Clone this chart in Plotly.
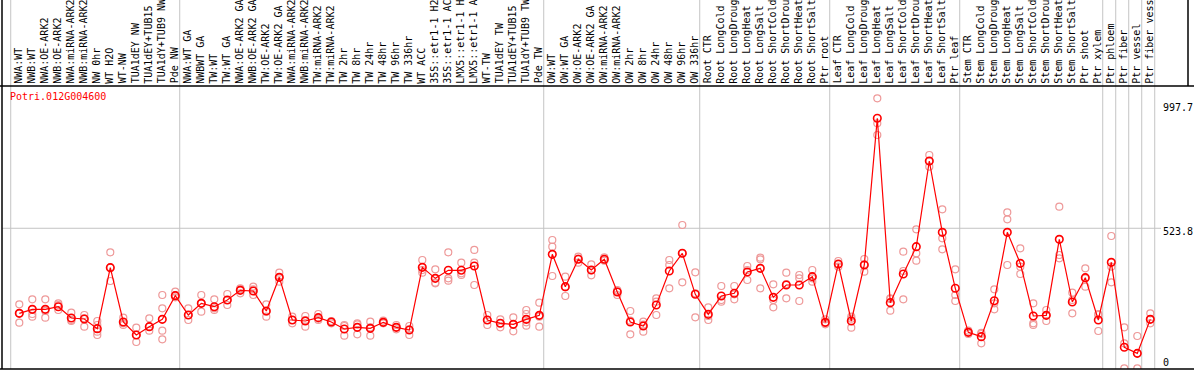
import plotly.graph_objects as go

gene = "Potri.012G004600"

# sample labels as displayed (the reference shows at most 14 characters)
labels = [
    "NWA:WT", "NWB:WT", "NWA:OE-ARK2", "NWB:OE-ARK2", "NWA:miRNA-ARK2", "NWB:miRNA-ARK2",
    "NW 0hr", "WT H2O", "WT-NW", "TUA1dEY NW", "TUA1dEY+TUB15", "TUA1dY+TUB9 NW", "Pde NW",
    "NWA:WT GA", "NWBWT GA", "TW:WT", "TW:WT GA", "NWA:OE-ARK2 GA", "NWB:OE-ARK2 GA",
    "TW:OE-ARK2", "TW:OE-ARK2 GA", "NWA:miRNA-ARK2", "NWB:miRNA-ARK2", "TW:miRNA-ARK2",
    "TW:miRNA-ARK2", "TW 2hr", "TW 8hr", "TW 24hr", "TW 48hr", "TW 96hr", "TW 336hr",
    "WT ACC", "35S::etr1-1 H2", "35S::etr1-1 AC", "LMX5::etr1-1 H", "LMX5::etr1-1 A",
    "WT-TW", "TUA1dEY TW", "TUA1dEY+TUB15", "TUA1dY+TUB9 TW", "Pde TW",
    "OW:WT", "OW:WT GA", "OW:OE-ARK2", "OW:OE-ARK2 GA", "OW:miRNA-ARK2", "OW:miRNA-ARK2",
    "OW 2hr", "OW 8hr", "OW 24hr", "OW 48hr", "OW 96hr", "OW 336hr",
    "Root CTR", "Root LongCold", "Root LongDroug", "Root LongHeat", "Root LongSalt",
    "Root ShortCold", "Root ShortDrou", "Root ShortHeat", "Root ShortSalt", "Ptr root",
    "Leaf CTR", "Leaf LongCold", "Leaf LongDroug", "Leaf LongHeat", "Leaf LongSalt",
    "Leaf ShortCold", "Leaf ShortDrou", "Leaf ShortHeat", "Leaf ShortSalt", "Ptr leaf",
    "Stem CTR", "Stem LongCold", "Stem LongDroug", "Stem LongHeat", "Stem LongSalt",
    "Stem ShortCold", "Stem ShortDrou", "Stem ShortHeat", "Stem ShortSalt", "Ptr shoot",
    "Ptr xylem",
    "Ptr phloem", "Ptr fiber", "Ptr vessel", "Ptr fiber vess",
]

group_sizes = [13, 28, 12, 10, 10, 11, 1, 1, 1, 1]

means = [
    190.6, 206.3, 206.3, 216.7, 172.4, 168.4, 130.6, 369.5, 156.7, 105.8, 138.4, 167.1, 259.8,
    184.1, 229.8, 216.7, 242.9, 280.7, 278.1, 199.8, 331.6, 164.5, 160.6, 173.7, 156.7, 129.3,
    135.8, 131.9, 155.4, 135.8, 125.3, 370.8, 327.7, 359.1, 359.1, 376.0, 164.5, 151.5, 147.5,
    167.1, 182.8,
    421.7, 295.1, 402.2, 360.4, 402.2, 274.2, 156.7, 141.0, 223.3, 356.5, 425.7, 265.1,
    186.7, 258.5, 269.0, 352.5, 366.9, 253.3, 301.6, 301.6, 334.3, 155.4,
    383.9, 160.6, 380.0, 954.5, 232.4, 344.7, 451.8, 787.3, 507.9, 288.6,
    116.2, 99.2, 240.2, 507.9, 386.5, 180.2, 182.8, 480.5, 235.0, 330.3, 164.5,
    390.4, 57.5, 33.9, 167.1,
]

replicates = [
    [225.9, 190.6, 154.1], [245.5, 177.6, 188.1], [245.5, 200.0, 173.7], [229.8, 203.7, 223.3],
    [193.3, 164.5, 160.6], [184.1, 171.1, 138.4], [160.6, 145.0, 118.8, 105.8],
    [429.6, 370.8, 317.3], [173.7, 151.5, 145.0], [134.5, 105.8, 78.4], [171.1, 138.4, 122.8],
    [262.5, 210.3, 122.8, 88.8], [275.5, 262.5, 253.3],
    [210.3, 184.1, 164.5], [262.5, 229.8, 197.2], [245.5, 210.3, 203.7], [266.4, 242.9, 223.3],
    [288.6, 284.7, 269.0], [295.1, 284.7, 262.5], [225.9, 197.2, 177.6], [350.0, 331.6, 314.7],
    [177.6, 164.5, 151.5], [180.2, 164.5, 138.4], [188.1, 169.8, 164.5], [160.6, 156.7, 151.5],
    [145.0, 141.0, 103.2], [151.5, 147.5, 108.4], [157.9, 135.8, 103.2], [161.9, 152.8, 151.5],
    [145.0, 135.8, 128.0], [141.0, 128.0, 105.8], [399.5, 360.4, 350.0], [363.0, 310.8, 308.2],
    [429.6, 327.7, 318.6], [389.1, 347.3, 340.8], [438.8, 389.1, 301.6], [184.1, 164.5, 145.0],
    [167.1, 151.5, 135.8], [175.0, 147.5, 120.2], [203.7, 188.1, 155.4, 142.4],
    [232.4, 177.6, 138.4],
    [477.9, 451.8, 336.9], [334.3, 292.5, 258.5], [412.6, 404.8, 389.1], [382.6, 359.1, 339.5],
    [409.9, 399.5, 396.9], [282.1, 276.9, 262.5], [199.8, 161.9, 108.4], [157.9, 146.3, 118.8],
    [249.4, 236.4, 184.1], [399.5, 380.0, 288.6], [536.7, 425.7, 312.1], [351.3, 269.0, 175.0],
    [214.1, 180.2, 164.5], [297.7, 242.9, 236.4], [297.7, 265.1, 245.5], [376.0, 360.4, 321.2],
    [408.7, 402.2, 288.6], [304.3, 242.9, 214.1], [350.0, 305.6, 249.4], [340.8, 327.7, 238.9],
    [360.4, 327.7, 314.7], [167.1, 151.5, 147.5],
    [395.6, 382.6, 373.4], [177.6, 169.8, 134.5], [403.5, 382.6, 353.8], [1032.9, 934.9, 889.2],
    [249.4, 246.8, 201.1], [432.2, 356.5, 245.5], [519.7, 425.7, 396.9], [810.9, 786.1, 765.2],
    [598.0, 484.4, 441.4], [363.0, 262.5, 238.9],
    [122.8, 116.2, 109.7], [114.2, 109.7, 73.1], [284.7, 229.8, 206.3], [586.3, 558.9, 380.0],
    [445.3, 373.4, 344.7], [229.8, 151.5, 145.0], [203.7, 182.8, 160.6], [608.5, 419.2, 406.1],
    [271.6, 242.9, 190.6], [366.9, 327.7, 295.1], [188.1, 184.1, 121.5],
    [493.6, 373.4, 312.1], [135.8, 73.1, -24.8], [101.8, 33.9, -24.8], [190.6, 167.1, 151.5],
]

ytick_vals = [0, 523.8, 997.7]
ytick_text = ["0", "523.8", "997.7"]

# ---------------- layout geometry ----------------
W, H = 1194, 370
ML, MR, MT, MB = 2, 6, 86, 1
PW = W - ML - MR
PH = H - MT - MB


def pxx(xp):
    return (xp - ML) / PW


def pxy(yp):
    return (H - MB - yp) / PH


FONT = "DejaVu Sans Mono, Liberation Mono, monospace"
GRID = "#c4c4c4"

xs = list(range(len(means)))
rx, ry = [], []
for i, reps in enumerate(replicates):
    for v in reps:
        rx.append(i)
        ry.append(v)

fig = go.Figure()
fig.add_trace(go.Scatter(
    x=rx, y=ry, mode="markers",
    marker=dict(symbol="circle-open", size=7, color="#ee9999", line=dict(width=1.2)),
    hoverinfo="skip", showlegend=False,
))
fig.add_trace(go.Scatter(
    x=xs, y=means, mode="lines+markers",
    line=dict(color="#ff0000", width=1.2),
    marker=dict(symbol="circle-open", size=7.5, color="#ff0000", line=dict(width=1.6)),
    text=labels, hovertemplate="%{text}: %{y}<extra></extra>", showlegend=False,
))

shapes = []
b = 0
bounds = [0]
for g in group_sizes:
    b += g
    bounds.append(b)
for k in bounds:
    shapes.append(dict(type="line", xref="x", yref="paper", x0=k - 0.66, x1=k - 0.66,
                       y0=0, y1=pxy(0), line=dict(color=GRID, width=1), layer="below"))
shapes.append(dict(type="line", xref="paper", yref="y", x0=0, x1=pxx(1161),
                   y0=ytick_vals[1], y1=ytick_vals[1], line=dict(color=GRID, width=1), layer="below"))
shapes.append(dict(type="line", xref="paper", yref="paper", x0=0, x1=0, y0=0, y1=pxy(0),
                   line=dict(color="black", width=1.5)))
shapes.append(dict(type="line", xref="paper", yref="paper", x0=pxx(0), x1=pxx(W), y0=0, y1=0,
                   line=dict(color="black", width=1.5)))
shapes.append(dict(type="line", xref="paper", yref="paper", x0=pxx(0), x1=pxx(W), y0=1, y1=1,
                   line=dict(color="black", width=1.5)))
shapes.append(dict(type="line", xref="paper", yref="paper", x0=1, x1=1, y0=1, y1=pxy(0),
                   line=dict(color="black", width=1.5)))

annotations = []
for i, lab in enumerate(labels):
    annotations.append(dict(
        x=i, xref="x", y=pxy(85.5), yref="paper", text=lab, textangle=-90,
        xanchor="center", yanchor="bottom", showarrow=False, xshift=-1,
        font=dict(family=FONT, size=10, color="black"),
    ))
annotations.append(dict(
    x=pxx(7.5), xref="paper", y=pxy(96.7), yref="paper", text=gene, xanchor="left",
    yanchor="middle", showarrow=False, font=dict(family=FONT, size=10, color="#ff0000"),
))
tick_shift = [0, -3.4, 0]
for v, t, s in zip(ytick_vals, ytick_text, tick_shift):
    annotations.append(dict(
        x=pxx(1161), xref="paper", y=v, yref="y", text=t, xanchor="left", yanchor="middle",
        yshift=s, showarrow=False, font=dict(family=FONT, size=10, color="black"),
    ))

fig.update_layout(
    width=W, height=H,
    margin=dict(l=ML, r=MR, t=MT, b=MB, pad=0),
    paper_bgcolor="white", plot_bgcolor="white",
    xaxis=dict(range=[(ML - 19.3) / 13, (W - MR - 19.3) / 13], visible=False, fixedrange=True),
    yaxis=dict(range=[(362 - (H - MB)) / 0.2553, (362 - MT) / 0.2553], visible=False,
               fixedrange=True),
    shapes=shapes, annotations=annotations, showlegend=False,
)

fig.write_html(
    "out.html",
    config={"displayModeBar": False},
    post_script="document.body.style.margin='0';document.body.style.overflow='hidden';",
)
